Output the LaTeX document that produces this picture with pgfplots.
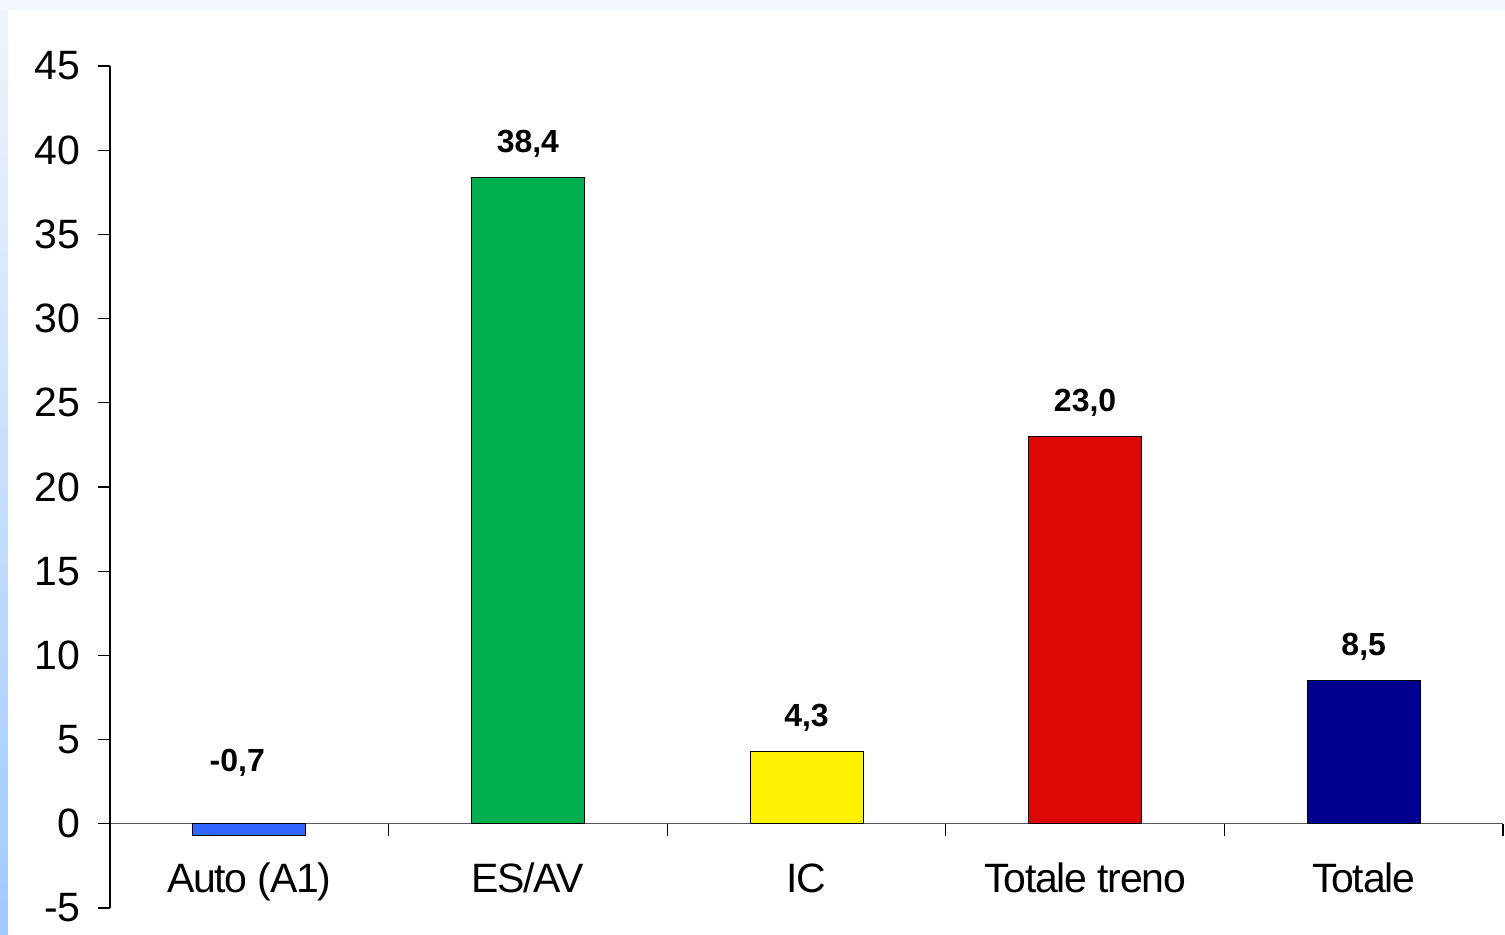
\documentclass[border=0pt]{standalone}
\usepackage{pgfplots}
\pgfplotsset{compat=1.18}
\usepackage{fontspec}
\setmainfont{Liberation Sans}
\newfontfamily\tightfont[LetterSpace=-3]{Liberation Sans}
\definecolor{bgtop}{HTML}{F2F7FE}
\definecolor{lefttop}{HTML}{EEF4FD}
\definecolor{leftbot}{HTML}{9FCAFD}
\definecolor{cblue}{HTML}{3366FF}
\definecolor{cgreen}{HTML}{00B050}
\definecolor{cyellow}{HTML}{FFF200}
\definecolor{cred}{HTML}{DD0806}
\definecolor{cnavy}{HTML}{000090}
\begin{document}
\begin{tikzpicture}
\fill[bgtop] (0,0) rectangle (752.5pt,467pt);
\shade[top color=lefttop, bottom color=leftbot] (0,0) rectangle (4pt,462pt);
\fill[white] (4pt,0) rectangle (752.5pt,462pt);
\begin{axis}[
  at={(55pt,13pt)}, anchor=south west,
  scale only axis, width=696.5pt, height=421pt,
  xmin=-0.5, xmax=4.5, ymin=-5, ymax=45,
  axis y line*=left, axis x line*=middle,
  tick align=outside,
  major tick length=6pt,
  axis line style={black, line width=0.6pt},
  x axis line style={black!65},
  every tick/.style={black, line width=0.6pt},
  ytick={-5,0,5,10,15,20,25,30,35,40,45},
  yticklabels={-5,0,5,10,15,20,25,30,35,40,45},
  yticklabel style={font=\fontsize{20.5}{24}\selectfont, anchor=east, inner sep=0pt, xshift=-8.5pt},
  xtick={-0.5,0.5,1.5,2.5,3.5,4.5},
  xticklabels={},
  extra x ticks={0,1,2,3,4},
  extra x tick labels={Auto (A1),ES/AV,IC,Totale treno,Totale},
  extra x tick style={major tick length=0pt, xticklabel style={font=\tightfont\fontsize{20.5}{24}\selectfont, anchor=base, inner sep=0pt, yshift=-34.5pt}},
  ybar, bar width=56.5pt, bar shift=0pt,
  nodes near coords, point meta=explicit symbolic,
  every node near coord/.append style={font=\bfseries\fontsize{16}{19}\selectfont, anchor=base, inner sep=0pt, yshift=12.5pt, black},
]
\addplot[fill=cblue, draw=black, line width=0.5pt, every node near coord/.append style={yshift=19.4pt, xshift=-6pt}] coordinates {(0,-0.7) [-0,7]};
\addplot[fill=cgreen, draw=black, line width=0.5pt] coordinates {(1,38.4) [38,4]};
\addplot[fill=cyellow, draw=black, line width=0.5pt] coordinates {(2,4.3) [4,3]};
\addplot[fill=cred, draw=black, line width=0.5pt] coordinates {(3,23.0) [23,0]};
\addplot[fill=cnavy, draw=black, line width=0.5pt] coordinates {(4,8.5) [8,5]};
\end{axis}
\pgfresetboundingbox
\path[use as bounding box] (0,0) rectangle (752.5pt,467pt);
\end{tikzpicture}
\end{document}
